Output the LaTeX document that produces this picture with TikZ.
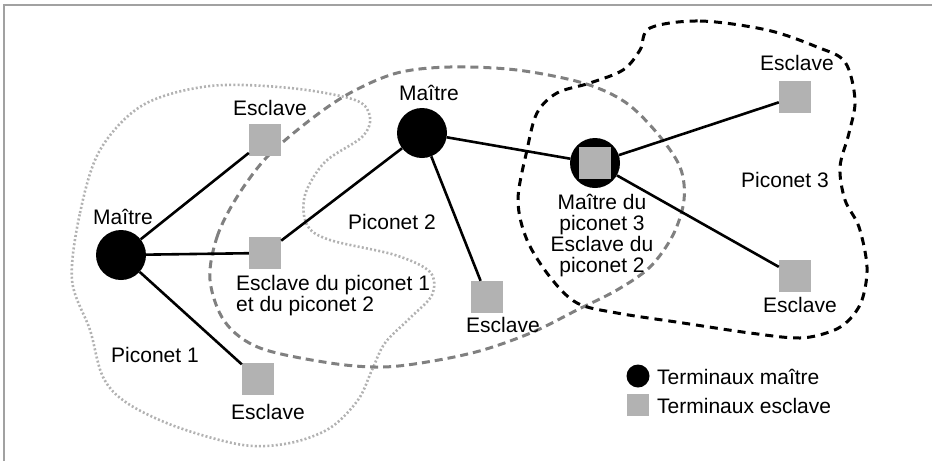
\documentclass[tikz,border=0pt]{standalone}
\usepackage{fontspec}
\setmainfont{Liberation Sans}
\definecolor{grisclair}{gray}{0.7}
\definecolor{grismoyen}{gray}{0.5}
\definecolor{griscadre}{gray}{0.63}
\begin{document}
\begin{tikzpicture}[x=1pt,y=-1pt,
    maitre/.style={circle,fill=black,minimum size=50pt,inner sep=0pt},
    esclave/.style={rectangle,fill=grisclair,minimum size=32pt,inner sep=0pt},
    lien/.style={line width=2.6pt},
    texte/.style={font=\fontsize{21}{21}\selectfont,inner sep=0pt},
    piconetun/.style={grisclair,line width=2.6pt,dash pattern=on 2pt off 2.2pt},
    piconetdeux/.style={grismoyen,line width=3pt,dash pattern=on 8pt off 5pt},
    piconettrois/.style={black,line width=3pt,dash pattern=on 8pt off 6pt}]
  \useasboundingbox (0,0) rectangle (932,461);
  \draw[griscadre,line width=2pt] (4,461) -- (4,5) -- (932,5);

  % les trois piconets
  \draw[piconetun] plot[smooth cycle,tension=0.55] coordinates {
    (72,280) (80,213) (100,150) (143,105) (210,86) (290,88) (355,100)
    (370,117) (362,137) (325,162) (305,195) (307,225) (330,240) (395,255)
    (430,272) (432,295) (410,318) (385,343) (372,370) (358,400) (330,428)
    (290,443) (243,445) (177,427) (127,403) (103,377) (90,330)};
  \draw[piconetdeux] plot[smooth cycle,tension=0.55] coordinates {
    (210,280) (217,237) (237,197) (267,157) (310,120) (350,93) (397,73)
    (450,67) (517,70) (583,83) (625,102) (657,133) (680,167) (684,200)
    (673,235) (650,267) (617,290) (577,310) (533,332) (483,350) (433,361)
    (383,367) (330,363) (260,348) (225,322)};
  \draw[piconettrois] plot[smooth cycle,tension=0.55] coordinates {
    (650,28) (700,21) (767,30) (817,47) (845,62) (855,100) (849,133)
    (840,167) (845,200) (859,227) (867,267) (862,300) (849,320) (832,331)
    (800,338) (750,333) (683,323) (617,313) (577,303) (550,277) (527,240)
    (518,200) (527,150) (537,113) (557,93) (590,83) (623,70) (640,50)};

  % terminaux
  \begin{scope}
    \node[maitre]  (m1)  at (121,255) {};
    \node[maitre]  (m2)  at (422,133) {};
    \node[maitre]  (b)   at (595,163) {};
    \node[esclave] (bs)  at (595,163) {};
    \node[esclave] (s1)  at (265,140) {};
    \node[esclave] (s12) at (265,253) {};
    \node[esclave] (s1b) at (258,379) {};
    \node[esclave] (s2)  at (487,297) {};
    \node[esclave] (s3a) at (795,97) {};
    \node[esclave] (s3b) at (795,276) {};
  \end{scope}
  \draw[lien] (m1) -- (s1);
  \draw[lien] (m1) -- (s12);
  \draw[lien] (m1) -- (s1b);
  \draw[lien] (s12) -- (m2);
  \draw[lien] (m2) -- (s2);
  \draw[lien] (m2) -- (b);
  \draw[lien] (b) -- (s3a);
  \draw[lien] (b) -- (s3b);

  % textes
  \begin{scope}[every node/.style={texte}]
    \node (tm1)  at (123,217) {Maître};
    \node (ts1)  at (270,108) {Esclave};
    \node[anchor=west,align=left] (ts12) at (236,296)
      {Esclave du piconet 1\\et du piconet 2};
    \node (ts1b) at (268,412) {Esclave};
    \node (tp1)  at (155,355) {Piconet 1};
    \node (tm2)  at (429,93) {Maître};
    \node (tp2)  at (392,222) {Piconet 2};
    \node (ts2)  at (503,325) {Esclave};
    \node[align=center] (tb) at (602,236)
      {Maître du\\piconet 3\\Esclave du\\piconet 2};
    \node (ts3a) at (797,63) {Esclave};
    \node (tp3)  at (785,180) {Piconet 3};
    \node (ts3b) at (800,305) {Esclave};
  \end{scope}

  % legende
  \node[maitre,minimum size=23pt] (lm) at (638,376) {};
  \node[esclave,minimum size=22pt] (le) at (638,405) {};
  \node[texte,anchor=west] (tlm) at (657,377) {Terminaux maître};
  \node[texte,anchor=west] (tle) at (657,406) {Terminaux esclave};
\end{tikzpicture}
\end{document}
